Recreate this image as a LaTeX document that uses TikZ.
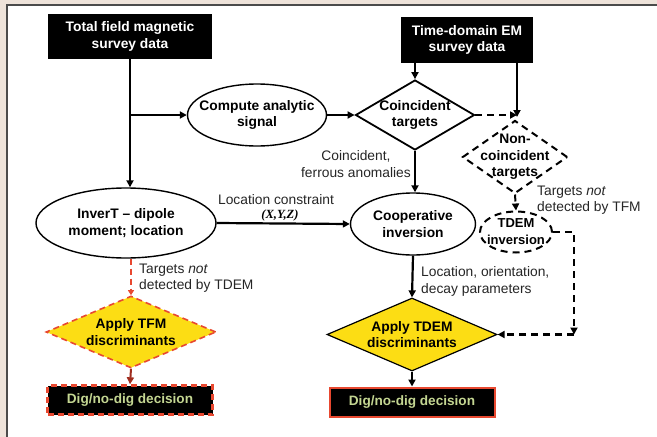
\documentclass[tikz,border=0pt]{standalone}
\usepackage{fontspec}
\setmainfont{Liberation Sans}
\newfontfamily\serifxyz{Liberation Serif}
\usetikzlibrary{shapes.geometric,arrows.meta}
\definecolor{bgbeige}{RGB}{238,227,218}
\definecolor{panelgray}{RGB}{75,75,75}
\definecolor{tyellow}{RGB}{252,221,20}
\definecolor{tred}{RGB}{232,72,48}
\definecolor{dred}{RGB}{160,45,30}
\definecolor{lgreen}{RGB}{196,214,146}
\begin{document}
\begin{tikzpicture}[x=1pt,y=-1pt,
  bfont/.style={font=\fontsize{13.8}{16.5}\selectfont\bfseries},
  rfont/.style={font=\fontsize{13.8}{16.5}\selectfont},
  txt/.style={bfont,align=center,inner sep=0pt},
  blackbox/.style={rectangle,fill=black,text=white,bfont,align=center,inner sep=0pt},
  ell/.style={ellipse,draw=black,line width=1.4pt,fill=white,inner sep=0pt},
  dia/.style={diamond,draw=black,line width=1.8pt,inner sep=0pt,fill=white},
  arr/.style={line width=2.2pt,-{Triangle[length=7pt,width=7pt]}},
  dsh/.style={dash pattern=on 7pt off 5pt},
  lab/.style={rfont,align=left,inner sep=0pt,text=black!85},
  digbox/.style={rectangle,fill=black,text=lgreen,font=\fontsize{13.6}{16}\selectfont\bfseries,inner sep=0pt,minimum width=165pt,minimum height=29pt},
]
\useasboundingbox (0,0) rectangle (657,437);
\fill[bgbeige] (0,0) rectangle (657,437);
\fill[white] (7,5) rectangle (657,437);
\draw[panelgray,line width=2pt] (7,437) -- (7,5) -- (657,5);

% nodes
\node[blackbox,minimum width=164pt,minimum height=45pt] (tfm) at (130,36.5) {Total field magnetic\\survey data};
\node[blackbox,minimum width=132pt,minimum height=46pt] (tdem) at (467,40) {Time-domain EM\\survey data};
\node[ell,minimum width=139pt,minimum height=62pt,label={[txt]center:{Compute analytic\\signal}}] (cas) at (257,115) {};
\node[dia,minimum width=119pt,minimum height=70pt,label={[txt]center:{Coincident\\targets}}] (coin) at (415,115) {};
\node[dia,dsh,line width=2pt,minimum width=105pt,minimum height=73pt,label={[txt]center:{Non-\\coincident\\targets}}] (nonc) at (515,157) {};
\node[ell,dsh,line width=2pt,minimum width=72pt,minimum height=41pt,label={[txt,font=\fontsize{13}{17}\selectfont\bfseries]center:{TDEM\\inversion}}] (tinv) at (516,232) {};
\node[ell,minimum width=180pt,minimum height=70pt,label={[txt]center:{InverT – dipole\\moment; location}}] (invert) at (126,223) {};
\node[ell,minimum width=125pt,minimum height=62pt,label={[txt]center:{Cooperative\\inversion}}] (coop) at (413,224) {};
\node[dia,fill=tyellow,draw=tred,line width=1.6pt,dash pattern=on 6pt off 4pt,minimum width=170pt,minimum height=72pt,label={[txt]center:{Apply TFM\\discriminants}}] (atfm) at (131,332) {};
\node[dia,fill=tyellow,line width=1.2pt,minimum width=170pt,minimum height=73pt,label={[txt]center:{Apply TDEM\\discriminants}}] (atdem) at (412,334.5) {};
\node[digbox,draw=tred,line width=2.4pt,dash pattern=on 6pt off 4pt] (dig1) at (130,400) {Dig/no-dig decision};
\node[digbox,draw=tred,line width=2pt] (dig2) at (412,402) {Dig/no-dig decision};

% labels
\node[lab,align=center] (lcoin) at (356,164) {Coincident,\\ferrous anomalies};
\node[lab] (lloc) at (276,200) {Location constraint};
\node[inner sep=0pt,font=\serifxyz\fontsize{12.5}{14}\selectfont\bfseries\itshape] (lxyz) at (280,215) {(X,Y,Z)};
\node[lab,anchor=west] (lntfm) at (537,200) {Targets \textit{not}\\detected by TFM};
\node[lab,anchor=west] (lntdem) at (139,278) {Targets \textit{not}\\detected by TDEM};
\node[lab,anchor=west] (lparam) at (421,281.5) {Location, orientation,\\decay parameters};

% connectors
\coordinate (meet) at (517,117);
\coordinate (corner) at (574,334.5);
\draw[arr] (tfm.south) -- (tfm.south |- invert.north);
\draw[arr] (tfm.south |- cas.west) -- (cas.west);
\draw[arr] (cas.east) -- (coin.west);
\draw[arr] (coin.north |- tdem.south) -- (coin.north);
\draw[arr] (tdem.south -| meet) -- (meet);
\draw[arr,dsh] (coin.east) -- (coin.east -| meet);
\draw[arr,dsh,line width=2pt] (nonc.south) -- (tinv.north);
\draw[arr] (coin.south) -- (coin.south |- coop.north);
\draw[arr] (invert.east) -- (coop.west);
\draw[arr] (coop.south) -- (atdem.north);
\draw[arr,dsh] (tinv.east) -| (corner);
\draw[arr,dsh] (corner) -- (atdem.east);
\draw[arr,tred,line width=2pt,dash pattern=on 6pt off 4pt,-{Triangle[length=5pt,width=6pt]}] (invert.south -| atfm.north) -- (atfm.north);
\draw[arr,dred,line width=2pt] (atfm.south) -- (dig1.north);
\draw[arr] (atdem.south) -- (dig2.north);
\end{tikzpicture}
\end{document}
